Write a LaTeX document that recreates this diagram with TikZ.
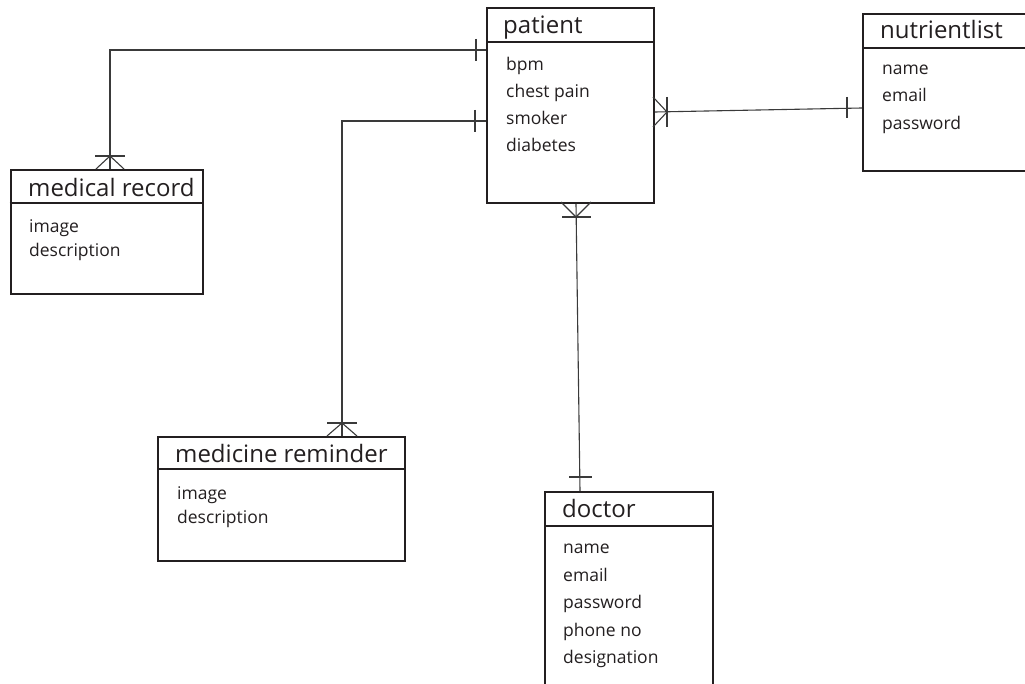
\documentclass[tikz,border=0pt]{standalone}
\usepackage{fontspec}
\setmainfont{Open Sans}
\begin{document}
\begin{tikzpicture}[x=1pt,y=-1pt,
  entity/.style={draw=ink,line width=2pt,rectangle,inner sep=0pt,anchor=north west},
  divider/.style={draw=ink,line width=2pt},
  etitle/.style={anchor=base west,inner sep=0pt,text=ink,font=\fontsize{24}{28}\selectfont},
  attr/.style={anchor=base west,inner sep=0pt,text=ink,font=\fontsize{17.5}{20}\selectfont},
  link/.style={draw=wire,line width=1.1pt},
  tick/.style={draw=wire,line width=1.1pt}]
\definecolor{ink}{HTML}{231F20}
\definecolor{wire}{HTML}{3A3A3A}
\useasboundingbox (0,0) rectangle (1025,684);
\fill[white] (0,0) rectangle (1025,684);
\clip (0,0) rectangle (1025,684);

% entities
\node[entity,minimum width=167pt,minimum height=195pt] (patient) at (486,7) {};
\draw[divider] (486,42) -- (653,42);
\node[etitle] (patientT) at (503,34) {patient};
\node[attr] (p1) at (506,71) {bpm};
\node[attr] (p2) at (506,98) {chest pain};
\node[attr] (p3) at (506,125) {smoker};
\node[attr] (p4) at (506,152) {diabetes};

\node[entity,minimum width=200pt,minimum height=157pt] (nutri) at (862,13) {};
\draw[divider] (862,48) -- (1062,48);
\node[etitle] (nutriT) at (880,39) {nutrientlist};
\node[attr] (n1) at (882,75) {name};
\node[attr] (n2) at (882,102) {email};
\node[attr] (n3) at (882,130) {password};

\node[entity,minimum width=192pt,minimum height=124pt] (record) at (9.5,169.5) {};
\draw[divider] (9.5,203) -- (201.5,203);
\node[etitle] (recordT) at (28,197) {medical record};
\node[attr] (r1) at (29,233) {image};
\node[attr] (r2) at (29,257) {description};

\node[entity,minimum width=247pt,minimum height=124pt] (reminder) at (157,436) {};
\draw[divider] (157,469) -- (404,469);
\node[etitle] (reminderT) at (175,462) {medicine reminder};
\node[attr] (m1) at (177,499) {image};
\node[attr] (m2) at (177,523) {description};

\node[entity,minimum width=168pt,minimum height=240pt] (doctor) at (544,491) {};
\draw[divider] (544,526) -- (712,526);
\node[etitle] (doctorT) at (562,517) {doctor};
\node[attr] (d1) at (563,553) {name};
\node[attr] (d2) at (563,581) {email};
\node[attr] (d3) at (563,608) {password};
\node[attr] (d4) at (563,636) {phone no};
\node[attr] (d5) at (563,663) {designation};

% patient -- medical record (one to many)
\coordinate (a1) at (patient.west |- 0,50);
\coordinate (a2) at (110,50);
\coordinate (a3) at (record.north -| 110,0);
\draw[link] (a1) -- (a2) -- (a3);
\draw[tick] (476,39) -- (476,61);
\draw[tick] (95,156) -- (125,156);
\draw[tick] (96,169) -- (110,156) -- (124,169);

% patient -- medicine reminder (one to many)
\coordinate (b1) at (patient.west |- 0,121);
\coordinate (b2) at (342,121);
\coordinate (b3) at (reminder.north -| 342,0);
\draw[link] (b1) -- (b2) -- (b3);
\draw[tick] (475,110) -- (475,132);
\draw[tick] (327,423) -- (357,423);
\draw[tick] (327,436) -- (342,423) -- (357,436);

% patient -- nutrientlist (many to one)
\coordinate (c1) at (patient.east |- 0,112);
\coordinate (c2) at (nutri.west |- 0,108);
\draw[link] (c1) -- (c2);
\draw[tick] (653,97) -- (667,112) -- (653,127);
\draw[tick] (667,97) -- (667,127);
\draw[tick] (847,97) -- (847,118);

% patient -- doctor (many to one)
\coordinate (e1) at (patient.south -| 576,0);
\coordinate (e2) at (doctor.north -| 580,0);
\draw[link] (e1) -- (e2);
\draw[tick] (561,202) -- (576,217) -- (591,202);
\draw[tick] (562,217) -- (591,217);
\draw[tick] (569,477) -- (592,477);
\end{tikzpicture}
\end{document}
